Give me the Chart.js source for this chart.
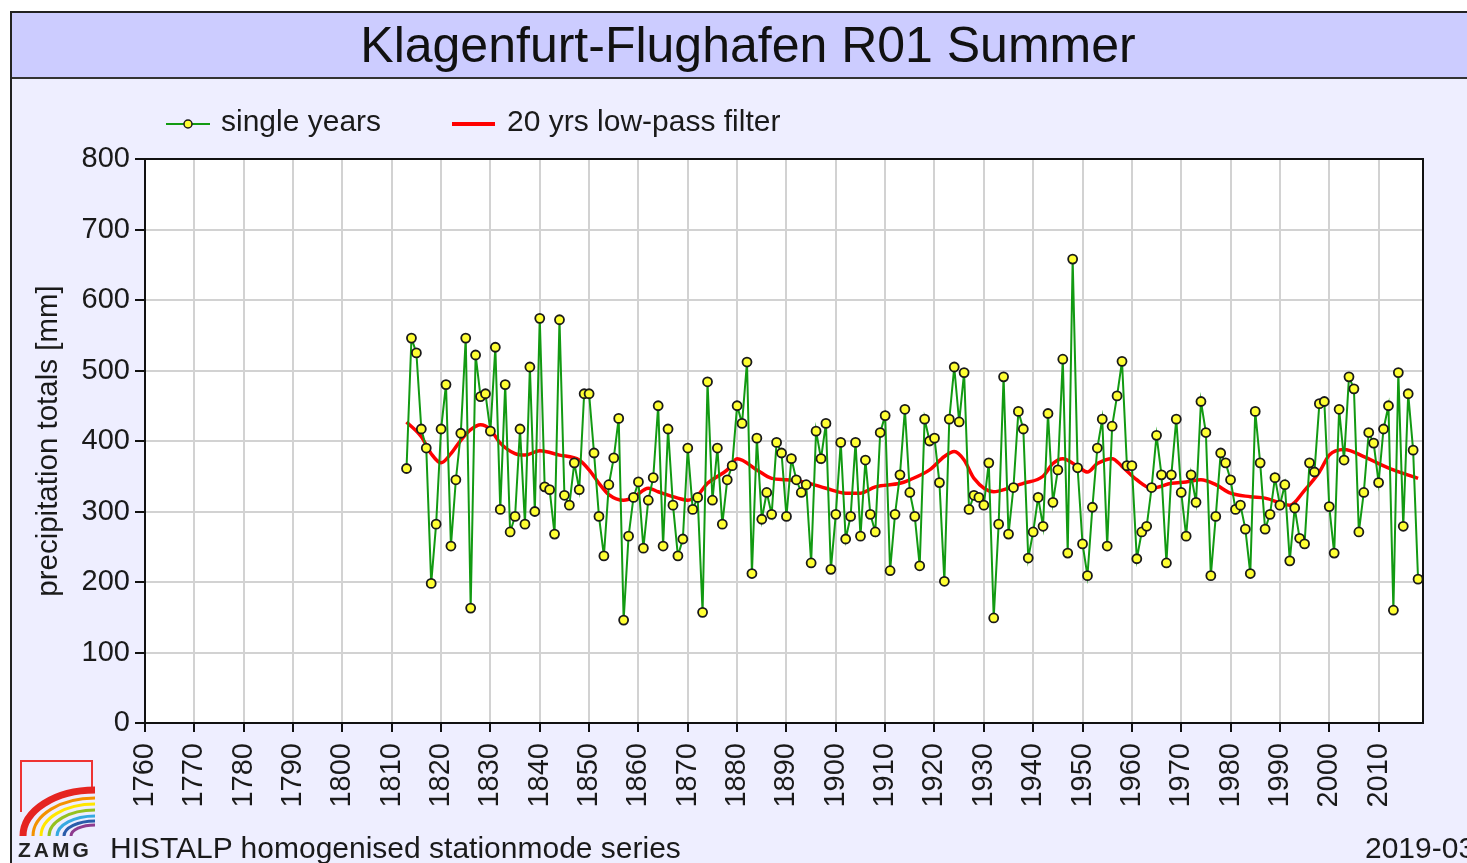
<!DOCTYPE html>
<html>
<head>
<meta charset="utf-8">
<title>Klagenfurt-Flughafen R01 Summer</title>
<script src="https://cdn.jsdelivr.net/npm/chart.js@4.4.1/dist/chart.umd.min.js"></script>
<style>
  html, body { margin: 0; padding: 0; background: #fff; overflow: hidden; }
  body { width: 1467px; height: 863px; position: relative; font-family: "Liberation Sans", Arial, sans-serif; color: #1a1a1a; }
  #frame { position: absolute; left: 10px; top: 11px; width: 1480px; height: 870px; border: 2px solid #222; background: #eeeeff; }
  #title { position: absolute; left: 0; top: 0; width: 1472px; height: 64px; background: #ccccff; border-bottom: 2px solid #333; text-align: center; font-size: 50px; line-height: 64px; white-space: nowrap; color: #111; }
  #myChart { position: absolute; left: 0; top: 0; }
  #source { position: absolute; left: 110px; top: 831px; font-size: 30px; line-height: 34px; white-space: nowrap; }
  #date { position: absolute; left: 1365px; top: 831px; font-size: 30px; line-height: 34px; white-space: nowrap; }
</style>
</head>
<body>
<div id="frame"><div id="title">Klagenfurt-Flughafen R01 Summer</div></div>
<canvas id="myChart" width="1467" height="863"></canvas>
<div id="source">HISTALP homogenised stationmode series</div>
<div id="date">2019-03</div>
<script>
// summer precipitation totals [mm], one value per year from firstYear on
var firstYear = 1813;
var summerTotals = [
  361, 546, 525, 417, 390, 198, 282,                     // 1813-1819
  417, 480, 251, 345, 411, 546, 163, 522, 463, 467,      // 1820s
  414, 533, 303, 480, 271, 293, 417, 282, 505, 300,
  574, 335, 331, 268, 572, 323, 309, 369, 331, 467,
  467, 383, 293, 237, 338, 376, 432, 146, 265, 320,
  342, 248, 316, 348, 450, 251, 417, 309, 237, 261,
  390, 303, 320, 157, 484, 316, 390, 282, 345, 365,
  450, 425, 512, 212, 404, 289, 327, 296, 398, 383,
  293, 375, 345, 327, 338, 227, 414, 375, 425, 218,
  296, 398, 261, 293, 398, 265, 373, 296, 271, 412,      // 1900s
  436, 216, 296, 352, 445, 327, 293, 223, 431, 400,
  404, 341, 201, 431, 505, 427, 497, 303, 323, 320,
  309, 369, 149, 282, 491, 268, 334, 442, 417, 234,
  271, 320, 279, 439, 313, 359, 516, 241, 658, 362,
  254, 209, 306, 390, 431, 251, 421, 464, 513, 365,
  365, 233, 271, 279, 334, 408, 352, 227, 352, 431,
  327, 265, 352, 313, 456, 412, 209, 293, 383, 369,
  345, 303, 309, 275, 212, 442, 369, 275, 296, 348,
  309, 338, 230, 305, 262, 254, 369, 356, 453, 456,
  307, 241, 445, 373, 491, 474, 271, 327, 412, 397,      // 2000s
  341, 417, 450, 160, 497, 279, 467, 387, 204            // 2010-2018
];

// 20 yrs low-pass filter
var filterYears = [1813, 1816, 1818, 1820, 1822, 1824, 1826, 1828, 1830, 1832,
  1835, 1837, 1840, 1844, 1848, 1850, 1852, 1854, 1857, 1859,
  1862, 1864, 1868, 1870, 1872, 1874, 1878, 1880, 1884, 1887,
  1890, 1894, 1898, 1902, 1905, 1908, 1913, 1915, 1919, 1922,
  1924, 1926, 1928, 1932, 1935, 1938, 1942, 1944, 1946, 1949,
  1951, 1953, 1956, 1958, 1961, 1964, 1968, 1971, 1974, 1977,
  1980, 1984, 1987, 1992, 1995, 1998, 2000, 2003, 2007, 2010,
  2013, 2018];
var filterTotals = [427, 406, 382, 369, 382, 401, 416, 423, 416, 397,
  382, 380, 386, 380, 373, 359, 340, 324, 316, 320,
  333, 328, 319, 316, 323, 340, 359, 375, 359, 347,
  345, 341, 333, 326, 326, 335, 340, 345, 359, 378,
  385, 373, 347, 328, 333, 340, 350, 368, 375, 364,
  356, 368, 375, 364, 345, 333, 340, 342, 345, 338,
  326, 321, 319, 309, 330, 356, 380, 388, 378, 368,
  359, 347];

var seriesNames = ['single years', '20 yrs low-pass filter'];
var yearMin = 1760, yearMax = 2019, yearStep = 10;
var mmMin = 0, mmMax = 800, mmStep = 100;

var fontFamily = '"Liberation Sans", Arial, sans-serif';
var textColor = '#1a1a1a';

var singlePoints = summerTotals.map(function (v, i) { return {x: firstYear + i, y: v}; });
var filterPoints = filterYears.map(function (yr, i) { return {x: yr, y: filterTotals[i]}; });

var frame = {
  id: 'frame',
  beforeDraw: function (chart) {
    var ctx = chart.ctx, a = chart.chartArea;
    ctx.save();
    ctx.fillStyle = '#ffffff';
    ctx.fillRect(a.left, a.top, a.right - a.left, a.bottom - a.top);
    ctx.restore();
  },
  afterDraw: function (chart) {
    var ctx = chart.ctx, a = chart.chartArea;
    var ds = chart.data.datasets;
    ctx.save();
    // box round the plot
    ctx.strokeStyle = '#111';
    ctx.lineWidth = 2;
    ctx.strokeRect(a.left, a.top, a.right - a.left, a.bottom - a.top);

    // legend
    var ly = 124;
    ctx.font = '30px ' + fontFamily;
    ctx.fillStyle = textColor;
    ctx.textBaseline = 'middle';
    ctx.strokeStyle = ds[0].borderColor;
    ctx.lineWidth = 2;
    ctx.beginPath(); ctx.moveTo(166, ly); ctx.lineTo(210, ly); ctx.stroke();
    ctx.beginPath(); ctx.arc(188, ly, 4, 0, Math.PI * 2);
    ctx.fillStyle = ds[0].pointBackgroundColor; ctx.fill();
    ctx.lineWidth = 1.5; ctx.strokeStyle = ds[0].pointBorderColor; ctx.stroke();
    ctx.fillStyle = textColor;
    ctx.fillText(ds[0].label, 221, ly - 1);
    ctx.strokeStyle = ds[1].borderColor;
    ctx.lineWidth = 4;
    ctx.beginPath(); ctx.moveTo(452, ly); ctx.lineTo(495, ly); ctx.stroke();
    ctx.fillText(ds[1].label, 507, ly - 1);

    // ZAMG logo
    ctx.strokeStyle = '#e33';
    ctx.lineWidth = 2;
    ctx.beginPath(); ctx.moveTo(21, 812); ctx.lineTo(21, 761); ctx.lineTo(92, 761); ctx.lineTo(92, 790); ctx.stroke();
    var bands = [['#e52421', 7, 72, 46], ['#f39200', 3, 62, 38], ['#ffe600', 3, 54, 32],
      ['#95c11f', 3, 46, 26], ['#36a9e1', 3, 38, 20], ['#2a5caa', 3, 31, 15], ['#8e3b8f', 3, 24, 11]];
    bands.forEach(function (b) {
      ctx.strokeStyle = b[0]; ctx.lineWidth = b[1];
      ctx.beginPath();
      ctx.ellipse(95, 836, b[2], b[3], 0, Math.PI, Math.PI * 1.5);
      ctx.stroke();
    });
    ctx.fillStyle = '#222';
    ctx.font = 'bold 21px ' + fontFamily;
    ctx.textBaseline = 'alphabetic';
    ctx.letterSpacing = '3px';
    ctx.fillText('ZAMG', 18, 857);
    ctx.restore();
  }
};

var ctx = document.getElementById('myChart').getContext('2d');
var myChart = new Chart(ctx, {
  type: 'line',
  data: {
    datasets: [{
      label: seriesNames[0],
      data: singlePoints,
      borderColor: '#129a12',
      borderWidth: 2,
      pointRadius: 4.5,
      pointBackgroundColor: '#ffff33',
      pointBorderColor: '#1a1a1a',
      pointBorderWidth: 1.8,
      tension: 0,
      order: 0
    }, {
      label: seriesNames[1],
      data: filterPoints,
      borderColor: '#ff0000',
      borderWidth: 3.5,
      pointRadius: 0,
      cubicInterpolationMode: 'monotone',
      order: 1
    }]
  },
  options: {
    responsive: false,
    devicePixelRatio: 1,
    animation: false,
    events: [],
    layout: { padding: { left: 12, right: 44, top: 159, bottom: 0 } },
    plugins: { legend: { display: false }, tooltip: { enabled: false } },
    scales: {
      x: {
        type: 'linear',
        min: yearMin,
        max: yearMax,
        afterFit: function (s) { s.height = 140; },
        grid: { color: '#d2d2d2', lineWidth: 2, tickColor: '#111', tickLength: 9, tickWidth: 2 },
        border: { color: '#111', width: 2 },
        ticks: {
          stepSize: yearStep, includeBounds: false, autoSkip: false,
          minRotation: 90, maxRotation: 90, padding: 11,
          color: textColor, font: { family: fontFamily, size: 29 },
          callback: function (v) { return String(v); }
        }
      },
      y: {
        min: mmMin,
        max: mmMax,
        afterFit: function (s) { s.width = 133; },
        grid: { color: '#d2d2d2', lineWidth: 2, tickColor: '#111', tickLength: 10, tickWidth: 2 },
        border: { color: '#111', width: 2 },
        ticks: { stepSize: mmStep, padding: 5, color: textColor, font: { family: fontFamily, size: 29 } },
        title: {
          display: true, text: 'precipitation totals [mm]', color: textColor,
          font: { family: fontFamily, size: 29.5 }, padding: { top: 19, bottom: 0 }
        }
      }
    }
  },
  plugins: [frame]
});
</script>
</body>
</html>
